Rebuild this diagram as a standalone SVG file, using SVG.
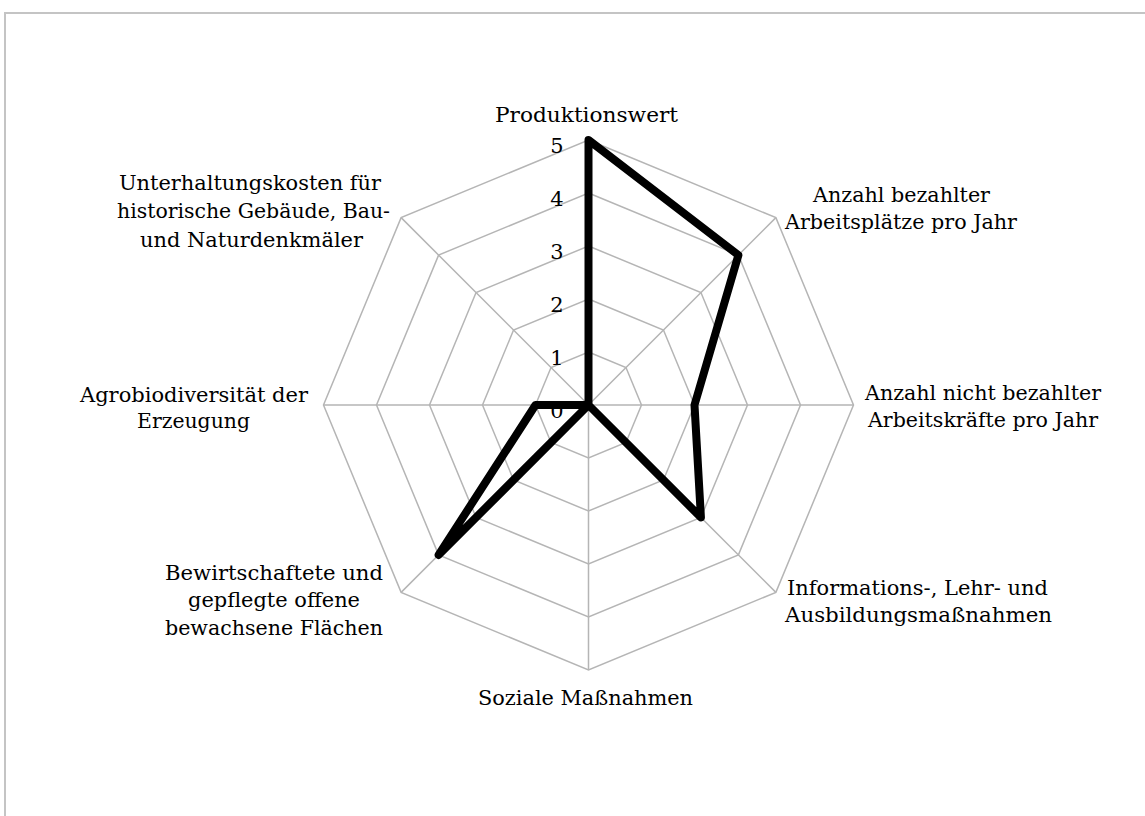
<svg xmlns="http://www.w3.org/2000/svg" width="1145" height="816" viewBox="0 0 1145 816">
  <style>
    .frame { fill: none; stroke: #c4c4c4; stroke-width: 2; }
    .grid { fill: none; stroke: #b5b5b5; stroke-width: 1.5; }
    .series { fill: none; stroke: #000; stroke-width: 8; stroke-linejoin: round; stroke-linecap: round; }
    .lbl { font-family: "DejaVu Serif", "Liberation Serif", serif; font-size: 20.5px; fill: #000; text-anchor: middle; }
    .tick { font-family: "DejaVu Serif", "Liberation Serif", serif; font-size: 21px; fill: #000; text-anchor: end; }
  </style>
  <rect width="1145" height="816" fill="#fff"/>
  <!-- chart area border (open to the right and bottom) -->
  <polyline class="frame" points="5,816 5,13 1145,13"/>

  <g id="radar" transform="translate(588.5,405)">
    <!-- concentric level octagons, 53px per unit -->
    <g id="grid" class="grid">
      <polygon points="0,-53 37.48,-37.48 53,0 37.48,37.48 0,53 -37.48,37.48 -53,0 -37.48,-37.48"/>
      <polygon points="0,-106 74.95,-74.95 106,0 74.95,74.95 0,106 -74.95,74.95 -106,0 -74.95,-74.95"/>
      <polygon points="0,-159 112.43,-112.43 159,0 112.43,112.43 0,159 -112.43,112.43 -159,0 -112.43,-112.43"/>
      <polygon points="0,-212 149.91,-149.91 212,0 149.91,149.91 0,212 -149.91,149.91 -212,0 -149.91,-149.91"/>
      <polygon points="0,-265 187.38,-187.38 265,0 187.38,187.38 0,265 -187.38,187.38 -265,0 -187.38,-187.38"/>
      <!-- spokes -->
      <path d="M0,0V-265 M0,0L187.38,-187.38 M0,0H265 M0,0L187.38,187.38 M0,0V265 M0,0L-187.38,187.38 M0,0H-265 M0,0L-187.38,-187.38"/>
    </g>
    <!-- scale values along the top spoke -->
    <g id="scale">
      <text class="tick" x="-25" y="13">0</text>
      <text class="tick" x="-25" y="-40">1</text>
      <text class="tick" x="-25" y="-93">2</text>
      <text class="tick" x="-25" y="-146">3</text>
      <text class="tick" x="-25" y="-199">4</text>
      <text class="tick" x="-25" y="-252">5</text>
    </g>
    <!-- data series: 5, 4, 2, 3, 0, 4, 1, 0 -->
    <g id="connectors">
      <polygon class="series" points="0,-265 149.91,-149.91 106,0 112.43,112.43 0,0 -149.91,149.91 -53,0 0,0"/>
    </g>
  </g>

  <g id="axis-labels">
    <g id="n-produktionswert"><text class="lbl" x="586.5" y="122" textLength="183" lengthAdjust="spacingAndGlyphs">Produktionswert</text></g>
    <g id="n-bezahlte">
      <text class="lbl" x="901.5" y="202" textLength="177" lengthAdjust="spacingAndGlyphs">Anzahl bezahlter</text>
      <text class="lbl" x="901" y="229" textLength="232" lengthAdjust="spacingAndGlyphs">Arbeitsplätze pro Jahr</text>
    </g>
    <g id="n-unbezahlte">
      <text class="lbl" x="983" y="400" textLength="236" lengthAdjust="spacingAndGlyphs">Anzahl nicht bezahlter</text>
      <text class="lbl" x="983" y="427" textLength="230" lengthAdjust="spacingAndGlyphs">Arbeitskräfte pro Jahr</text>
    </g>
    <g id="n-information">
      <text class="lbl" x="917.5" y="595" textLength="261" lengthAdjust="spacingAndGlyphs">Informations-, Lehr- und</text>
      <text class="lbl" x="918.5" y="622" textLength="267" lengthAdjust="spacingAndGlyphs">Ausbildungsmaßnahmen</text>
    </g>
    <g id="n-soziale"><text class="lbl" x="585.5" y="705" textLength="215" lengthAdjust="spacingAndGlyphs">Soziale Maßnahmen</text></g>
    <g id="n-flaechen">
      <text class="lbl" x="274" y="580" textLength="218" lengthAdjust="spacingAndGlyphs">Bewirtschaftete und</text>
      <text class="lbl" x="274" y="607" textLength="172" lengthAdjust="spacingAndGlyphs">gepflegte offene</text>
      <text class="lbl" x="274" y="635" textLength="218" lengthAdjust="spacingAndGlyphs">bewachsene Flächen</text>
    </g>
    <g id="n-agrobiodiversitaet">
      <text class="lbl" x="194" y="402" textLength="228" lengthAdjust="spacingAndGlyphs">Agrobiodiversität der</text>
      <text class="lbl" x="193.5" y="428" textLength="113" lengthAdjust="spacingAndGlyphs">Erzeugung</text>
    </g>
    <g id="n-unterhaltung">
      <text class="lbl" x="250" y="190" textLength="262" lengthAdjust="spacingAndGlyphs">Unterhaltungskosten für</text>
      <text class="lbl" x="253.5" y="218" textLength="273" lengthAdjust="spacingAndGlyphs">historische Gebäude, Bau-</text>
      <text class="lbl" x="251.5" y="247" textLength="223" lengthAdjust="spacingAndGlyphs">und Naturdenkmäler</text>
    </g>
  </g>
</svg>
